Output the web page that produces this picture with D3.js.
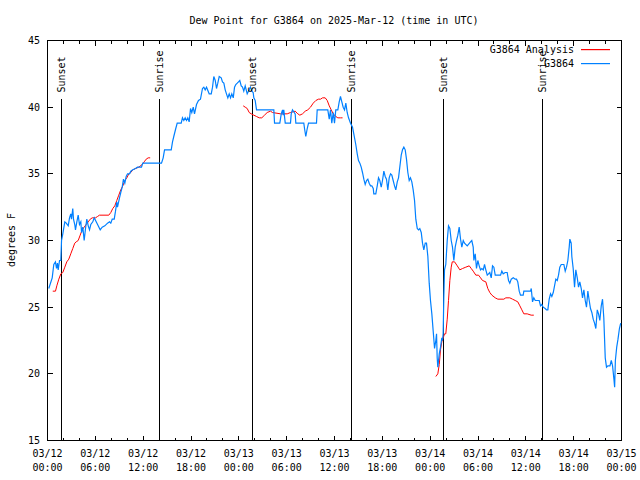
<!DOCTYPE html>
<html><head><meta charset="utf-8">
<script src="https://cdn.jsdelivr.net/npm/d3@7/dist/d3.min.js"></script>
<style>
body{margin:0;background:#fff;}
svg{display:block;}
text{font-family:"DejaVu Sans Mono",monospace;font-size:10px;fill:#000;}
</style></head><body>
<svg id="c" width="640" height="480"></svg>
<script>
// ---------- DATA ----------
const titleText = "Dew Point for G3864 on 2025-Mar-12 (time in UTC)";
const yLabelText = "degrees F";
const startTime = Date.UTC(2025, 2, 12, 0, 0);
const endTime = Date.UTC(2025, 2, 15, 0, 0);
const yDomain = [15, 45];
const yTicks = [15, 20, 25, 30, 35, 40, 45];
const seriesNames = ["G3864 Analysis", "G3864"];
const seriesColors = ["#ff0000", "#0080ff"];
// sun events: [hours after 03/12 00:00 UTC, label]
const sunEvents = [[1.72, "Sunset"], [14.09, "Sunrise"], [25.75, "Sunset"], [38.17, "Sunrise"], [49.71, "Sunset"], [62.13, "Sunrise"]];
const sunLineTop = 40.6; // degrees F where the marker lines start

// observed G3864: [hours after 03/12 00:00 UTC, dew point F]
const obsSeries = [[0.16,26.4],[0.59,27.2],[0.79,28.2],[1.00,28.4],[1.13,27.9],[1.25,28.3],[1.34,27.8],[1.51,28.5],[1.67,28.5],[1.72,29.3],[1.76,30.0],[1.92,30.5],[2.17,31.4],[2.35,31.3],[2.60,31.1],[2.76,31.7],[2.92,32.0],[3.01,31.6],[3.17,32.4],[3.26,31.6],[3.42,31.2],[3.51,30.8],[3.68,31.4],[3.85,31.9],[4.01,31.2],[4.18,31.4],[4.27,30.6],[4.43,31.0],[4.60,30.0],[4.77,30.9],[4.93,31.6],[5.11,31.1],[5.27,30.8],[5.43,31.2],[5.68,31.4],[5.86,31.7],[6.11,31.4],[6.36,31.1],[6.61,30.8],[6.86,31.0],[7.19,31.1],[7.53,31.3],[7.78,31.4],[7.94,31.3],[8.12,31.6],[8.37,31.6],[8.53,32.2],[8.69,32.9],[8.78,32.5],[9.03,33.2],[9.19,33.6],[9.37,34.0],[9.53,34.6],[9.70,34.3],[9.87,34.8],[10.04,35.0],[10.29,35.0],[10.45,35.2],[10.70,35.3],[11.04,35.4],[11.29,35.5],[11.79,35.5],[11.95,35.8],[14.30,35.8],[14.51,36.2],[14.68,36.8],[15.52,36.8],[15.68,37.4],[15.84,37.8],[16.09,38.4],[16.27,38.8],[16.77,38.8],[16.93,39.2],[17.10,39.0],[17.27,39.2],[17.44,39.0],[17.60,39.2],[17.77,38.9],[17.94,39.9],[18.10,39.6],[18.28,40.0],[18.44,39.5],[18.69,40.2],[18.94,40.5],[19.19,40.6],[19.44,41.4],[19.61,41.5],[19.78,41.3],[19.95,41.5],[20.28,41.0],[20.54,41.0],[20.70,41.5],[20.86,42.3],[21.04,42.0],[21.20,41.4],[21.36,41.8],[21.54,42.3],[21.79,42.2],[21.95,41.9],[22.12,41.8],[22.29,41.3],[22.45,41.0],[22.62,40.7],[22.79,41.0],[22.96,40.7],[23.12,41.0],[23.30,40.7],[23.46,41.5],[23.62,41.7],[23.80,41.8],[23.96,41.9],[24.12,42.0],[24.30,41.6],[24.46,41.5],[24.62,41.2],[24.80,41.6],[25.05,41.0],[25.30,41.3],[25.46,41.5],[25.63,41.2],[25.80,41.1],[25.88,40.7],[26.05,40.5],[26.22,39.8],[28.39,39.8],[28.48,38.8],[29.14,38.8],[29.32,39.5],[29.48,39.8],[29.57,39.4],[29.64,39.8],[29.82,38.8],[30.48,38.8],[30.57,39.5],[30.73,39.8],[31.07,39.5],[31.15,38.8],[32.15,38.8],[32.24,38.4],[32.40,37.8],[32.58,38.4],[32.74,38.8],[33.74,38.8],[33.83,39.8],[35.16,39.8],[35.34,39.1],[35.50,39.8],[35.66,38.8],[35.84,39.6],[36.00,38.8],[36.16,39.8],[36.42,39.8],[36.59,40.4],[36.75,40.8],[36.92,40.4],[37.09,40.0],[37.26,39.8],[37.42,40.3],[37.59,39.6],[37.76,39.2],[38.01,38.8],[38.26,38.5],[38.42,38.0],[38.67,37.2],[38.85,36.5],[39.01,36.0],[39.18,35.8],[39.35,35.5],[39.51,35.1],[39.68,34.6],[39.85,34.2],[40.02,34.5],[40.18,34.6],[40.35,34.3],[40.52,34.1],[40.68,34.1],[40.86,33.9],[40.93,33.5],[41.18,33.5],[41.36,34.1],[41.52,34.7],[41.68,34.5],[41.86,34.0],[42.02,34.5],[42.19,35.2],[42.36,34.8],[42.52,34.6],[42.69,33.8],[42.86,34.7],[43.03,35.0],[43.19,34.9],[43.36,34.5],[43.53,34.1],[43.69,33.8],[43.87,34.4],[44.03,34.7],[44.19,35.5],[44.37,36.4],[44.53,36.8],[44.70,37.0],[44.87,36.8],[45.03,36.1],[45.20,35.1],[45.37,34.5],[45.53,34.7],[45.70,34.4],[45.87,33.8],[46.04,33.0],[46.20,31.6],[46.38,30.9],[46.54,30.8],[46.70,30.9],[46.88,30.6],[47.04,29.8],[47.20,29.3],[47.38,29.8],[47.54,29.8],[47.71,28.8],[47.88,26.8],[48.04,25.5],[48.21,24.5],[48.38,23.2],[48.55,21.9],[48.71,22.5],[48.80,23.0],[48.88,21.2],[48.96,20.5],[49.14,21.5],[49.30,22.0],[49.46,22.7],[49.55,22.5],[49.63,23.0],[49.71,25.7],[49.80,27.8],[49.96,28.2],[50.14,30.0],[50.30,31.1],[50.47,30.9],[50.64,30.0],[50.80,29.5],[50.97,28.5],[51.14,29.5],[51.31,30.0],[51.47,30.4],[51.64,31.0],[51.81,30.1],[51.97,29.5],[52.15,30.0],[52.31,29.8],[52.65,29.6],[53.06,29.9],[53.22,30.0],[53.40,29.5],[53.48,28.5],[53.65,29.0],[53.81,27.9],[53.98,28.5],[54.15,28.1],[54.32,27.8],[54.48,27.9],[54.66,27.8],[54.82,28.2],[54.98,27.8],[55.16,27.4],[55.32,27.5],[55.48,27.6],[55.66,27.2],[55.82,28.1],[55.99,28.0],[56.16,27.4],[56.83,27.4],[56.99,27.7],[57.16,27.5],[57.41,27.6],[57.66,27.6],[57.83,27.0],[57.99,26.8],[58.17,27.1],[58.42,27.2],[58.67,27.1],[58.83,27.1],[58.99,26.9],[59.17,26.2],[59.33,25.9],[59.67,25.9],[59.75,26.2],[60.59,26.2],[60.68,26.4],[60.84,25.4],[61.00,25.7],[61.18,25.5],[61.68,25.5],[61.84,25.1],[62.00,25.2],[62.18,25.0],[62.43,24.9],[62.59,24.8],[62.76,24.8],[62.93,25.6],[63.10,26.0],[63.26,25.8],[63.44,26.1],[63.60,26.6],[63.76,27.1],[63.94,27.0],[64.10,27.4],[64.26,28.0],[64.44,28.2],[64.77,28.2],[64.94,27.7],[65.10,28.0],[65.27,28.5],[65.44,29.5],[65.52,30.1],[65.69,29.8],[65.77,28.8],[65.94,27.9],[66.11,26.5],[66.27,27.8],[66.45,27.2],[66.61,26.5],[66.77,26.9],[66.95,26.4],[67.11,25.7],[67.28,26.3],[67.45,25.5],[67.61,25.0],[67.78,26.2],[67.95,25.5],[68.11,24.9],[68.28,24.6],[68.45,24.1],[68.62,23.8],[68.78,23.4],[68.96,24.8],[69.12,24.5],[69.28,24.0],[69.46,25.1],[69.62,25.6],[69.78,24.2],[69.96,21.2],[70.12,20.5],[70.29,20.6],[70.55,20.6],[70.72,21.0],[70.88,20.6],[71.05,19.6],[71.14,19.0],[71.23,21.0],[71.40,22.0],[71.56,22.6],[71.74,23.4],[71.90,23.8]];

// G3864 Analysis: [hours, dew point F]; null marks a gap
const analysisSeries = [[0.66,26.2],[1.00,26.2],[1.17,26.6],[1.42,27.1],[1.67,27.5],[1.92,27.6],[2.17,28.0],[2.42,28.4],[2.67,28.6],[2.92,29.0],[3.17,29.4],[3.42,29.8],[3.60,29.9],[3.85,30.0],[4.10,30.4],[4.35,30.8],[4.60,31.0],[4.85,31.2],[5.11,31.4],[5.36,31.6],[5.61,31.7],[6.02,31.7],[6.27,31.8],[6.52,31.9],[7.69,31.9],[7.94,32.1],[8.19,32.4],[8.44,32.6],[8.69,33.0],[8.94,33.4],[9.19,33.8],[9.45,34.1],[9.70,34.5],[9.95,34.7],[10.20,35.0],[10.45,35.1],[10.70,35.3],[11.04,35.4],[11.45,35.5],[11.88,35.7],[12.13,35.9],[12.38,36.1],[12.63,36.2],[12.88,36.2],
null,
[24.55,40.1],[24.80,40.0],[25.05,39.9],[25.30,39.6],[25.55,39.5],[25.88,39.4],[26.22,39.3],[26.56,39.2],[26.88,39.2],[27.22,39.4],[27.56,39.6],[27.97,39.7],[28.22,39.6],[29.23,39.5],[30.07,39.5],[30.48,39.6],[31.07,39.7],[31.40,39.5],[31.65,39.4],[31.99,39.5],[32.33,39.7],[32.65,39.8],[32.99,40.0],[33.33,40.3],[33.66,40.5],[33.99,40.6],[34.25,40.6],[34.50,40.7],[34.83,40.7],[35.09,40.5],[35.34,40.1],[35.59,39.8],[35.84,39.5],[36.16,39.3],[36.42,39.2],[36.75,39.2],[37.01,39.2],
null,
[48.71,19.8],[48.96,20.0],[49.14,20.7],[49.30,21.8],[49.46,22.4],[49.64,22.7],[49.80,23.0],[49.96,23.0],[50.14,24.1],[50.30,25.5],[50.47,27.0],[50.64,28.0],[50.77,28.4],[51.06,28.4],[51.40,28.1],[51.72,27.8],[52.06,27.9],[52.47,28.0],[52.90,28.1],[53.15,27.9],[53.40,27.7],[53.73,27.4],[54.07,27.4],[54.32,27.2],[54.57,27.0],[54.98,26.9],[55.23,26.4],[55.48,26.1],[55.74,25.9],[56.16,25.7],[56.49,25.6],[57.24,25.6],[57.49,25.7],[57.99,25.7],[58.33,25.6],[58.67,25.5],[58.99,25.4],[59.25,25.1],[59.50,24.8],[59.75,24.5],[60.17,24.5],[60.67,24.4],[61.00,24.4]];

// ---------- DRAW ----------
const svg = d3.select("#c");
const L = 47.5, R = 621.5, T = 40.5, B = 440.5;
const toDate = h => new Date(startTime + h * 3600000);
const x = d3.scaleUtc().domain([new Date(startTime), new Date(endTime)]).range([L, R]);
const y = d3.scaleLinear().domain(yDomain).range([B, T]);

// title
svg.append("text").attr("x", 334).attr("y", 20).attr("text-anchor", "middle")
  .attr("dominant-baseline", "central").text(titleText);

// y axis label
svg.append("text").attr("transform", "translate(11,240) rotate(-90)")
  .attr("text-anchor", "middle").attr("dominant-baseline", "central").text(yLabelText);

const axisG = svg.append("g").attr("stroke", "#000").attr("stroke-width", 1).attr("shape-rendering", "crispEdges");

// y ticks
yTicks.forEach(v => {
  const yy = Math.round(y(v) - 0.5) + 0.5;
  if (v !== yDomain[0] && v !== yDomain[1]) {
    axisG.append("line").attr("x1", L).attr("x2", L + 5).attr("y1", yy).attr("y2", yy);
    axisG.append("line").attr("x1", R - 5).attr("x2", R).attr("y1", yy).attr("y2", yy);
  }
  svg.append("text").attr("x", 40).attr("y", yy).attr("text-anchor", "end")
    .attr("dominant-baseline", "central").text(v);
});

// x ticks
const majorTicks = x.ticks(d3.utcHour.every(6));
const minorTicks = x.ticks(d3.utcHour.every(2));
minorTicks.forEach(t => {
  const xx = Math.round(x(t) - 0.5) + 0.5;
  const len = (t.getUTCHours() % 6 === 0) ? 5 : 3;
  axisG.append("line").attr("x1", xx).attr("x2", xx).attr("y1", B).attr("y2", B - len);
  axisG.append("line").attr("x1", xx).attr("x2", xx).attr("y1", T).attr("y2", T + len);
});
const fmtDay = d3.utcFormat("%m/%d"), fmtHour = d3.utcFormat("%H:%M");
majorTicks.forEach(t => {
  const xx = x(t);
  svg.append("text").attr("x", xx).attr("y", 453).attr("text-anchor", "middle")
    .attr("dominant-baseline", "central").text(fmtDay(t));
  svg.append("text").attr("x", xx).attr("y", 467).attr("text-anchor", "middle")
    .attr("dominant-baseline", "central").text(fmtHour(t));
});

// series
const line = d3.line().defined(d => d !== null)
  .x(d => x(toDate(d[0]))).y(d => y(d[1]));
svg.append("path").datum(analysisSeries).attr("d", line)
  .attr("fill", "none").attr("stroke", seriesColors[0]).attr("stroke-width", 1);
svg.append("path").datum(obsSeries).attr("d", line)
  .attr("fill", "none").attr("stroke", seriesColors[1]).attr("stroke-width", 1.2);

// sun markers
sunEvents.forEach(([h, lab]) => {
  const xx = Math.round(x(toDate(h)) - 0.5) + 0.5;
  axisG.append("line").attr("x1", xx).attr("x2", xx).attr("y1", Math.round(y(sunLineTop))).attr("y2", B);
  svg.append("text").attr("transform", `translate(${xx},92.5) rotate(-90)`)
    .attr("text-anchor", "start").attr("dominant-baseline", "central").text(lab);
});

// frame
axisG.append("rect").attr("x", L).attr("y", T).attr("width", R - L).attr("height", B - T).attr("fill", "none");

// legend
const legend = svg.append("g");
seriesNames.forEach((name, i) => {
  const ly = 49 + i * 14;
  legend.append("text").attr("x", 574).attr("y", ly + 0.5).attr("text-anchor", "end")
    .attr("dominant-baseline", "central").text(name);
  legend.append("rect").attr("x", 581).attr("y", ly).attr("width", 29).attr("height", 1.2)
    .attr("fill", seriesColors[i]).attr("stroke", "none");
});
</script>
</body></html>
